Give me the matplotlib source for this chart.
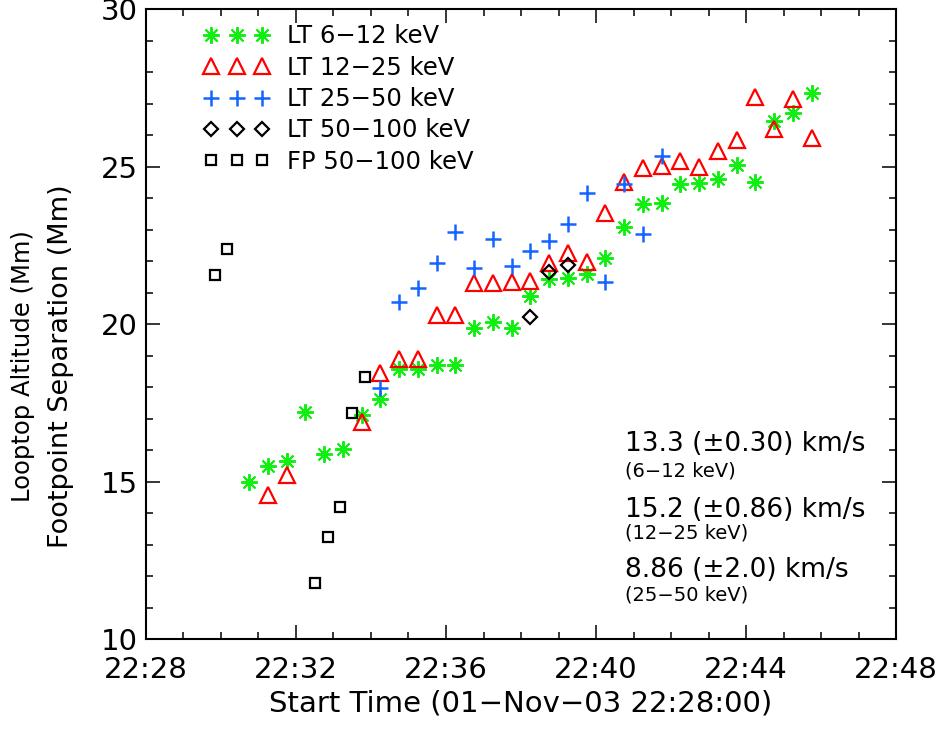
import numpy as np
import matplotlib
matplotlib.use("Agg")
import matplotlib.pyplot as plt
from matplotlib.ticker import MultipleLocator

# minutes after 22:28:00
lt1_t = [2.75, 3.25, 3.75, 4.25, 4.75, 5.25, 5.75, 6.25, 6.75, 7.25, 7.75, 8.25,
         8.75, 9.25, 9.75, 10.25, 10.75, 11.25, 11.75, 12.25, 12.75, 13.25, 13.75,
         14.25, 14.75, 15.25, 15.75, 16.25, 16.75, 17.25, 17.75]
lt1_y = [15.00, 15.51, 15.66, 17.21, 15.88, 16.03, 17.12, 17.62, 18.58, 18.58, 18.71,
         18.71, 19.87, 20.06, 19.89, 20.90, 21.44, 21.46, 21.59, 22.11, 23.10, 23.82,
         23.86, 24.44, 24.48, 24.60, 25.06, 24.53, 26.45, 26.70, 27.33]

lt2_t = [3.25, 3.75, 5.75, 6.25, 6.75, 7.25, 7.75, 8.25, 8.75, 9.25, 9.75, 10.25,
         10.75, 11.25, 11.75, 12.25, 12.75, 13.25, 13.75, 14.25, 14.75, 15.25, 15.75,
         16.25, 16.75, 17.25, 17.75]
lt2_y = [14.58, 15.22, 16.91, 18.44, 18.90, 18.90, 20.30, 20.30, 21.32, 21.32, 21.35,
         21.37, 21.96, 22.27, 21.99, 23.54, 24.53, 24.97, 25.03, 25.18, 25.00, 25.51,
         25.85, 27.21, 26.19, 27.14, 25.90]

lt3_t = [6.25, 6.75, 7.25, 7.75, 8.25, 8.75, 9.25, 9.75, 10.25, 10.75, 11.25, 11.75,
         12.25, 12.75, 13.25, 13.75]
lt3_y = [17.97, 20.72, 21.14, 21.94, 22.94, 21.78, 22.70, 21.85, 22.34, 22.64, 23.17,
         24.18, 21.33, 24.44, 22.86, 25.34]

lt4_t = [10.25, 10.75, 11.25]
lt4_y = [20.24, 21.67, 21.88]

fp_t = [1.84, 2.17, 4.51, 4.85, 5.17, 5.50, 5.84]
fp_y = [21.56, 22.39, 11.78, 13.26, 14.21, 17.17, 18.34]

xtick_vals = [0, 4, 8, 12, 16, 20]
xtick_labels = ["22:28", "22:32", "22:36", "22:40", "22:44", "22:48"]

speeds = ["13.3 (\u00b10.30) km/s", "15.2 (\u00b10.86) km/s", "8.86 (\u00b12.0) km/s"]
bands = ["(6\u221212 keV)", "(12\u221225 keV)", "(25\u221250 keV)"]

GREEN = "#11ee11"
RED = "#ff0000"
BLUE = "#1464ff"

plt.rcParams["font.family"] = ["DejaVu Sans"]

fig = plt.figure(figsize=(9.43, 7.29), dpi=100)
ax = fig.add_axes([0.1548, 0.1230, 0.7954, 0.8642])

ax.plot(lt1_t, lt1_y, ls="none", marker=(8, 2, 0), ms=12, mew=1.4, color=GREEN,
        label="LT 6\u221212 keV")
ax.plot(lt2_t, lt2_y, ls="none", marker="^", ms=12, mew=1.6, mfc="none", mec=RED,
        label="LT 12\u221225 keV")
ax.plot(lt3_t, lt3_y, ls="none", marker="+", ms=11, mew=1.8, color=BLUE,
        label="LT 25\u221250 keV")
ax.plot(lt4_t, lt4_y, ls="none", marker="D", ms=7.5, mew=1.6, mfc="none", mec="black",
        label="LT 50\u2212100 keV")
ax.plot(fp_t, fp_y, ls="none", marker="s", ms=6.5, mew=1.6, mfc="none", mec="black",
        label="FP 50\u2212100 keV")

ax.set_xlim(0, 20)
ax.set_ylim(10, 30)
ax.set_xticks(xtick_vals)
ax.set_xticklabels(xtick_labels)
ax.xaxis.set_minor_locator(MultipleLocator(1))
ax.set_yticks([10, 15, 20, 25, 30])
ax.yaxis.set_minor_locator(MultipleLocator(1))
ax.tick_params(which="both", direction="in", top=True, right=True, width=1.1)
ax.tick_params(which="major", length=10)
ax.tick_params(which="minor", length=5)
ax.tick_params(axis="x", labelsize=21, pad=12)
ax.tick_params(axis="y", labelsize=21, pad=6)
for sp in ax.spines.values():
    sp.set_linewidth(1.5)

ax.set_xlabel("Start Time (01\u2212Nov\u221203 22:28:00)", fontsize=21, labelpad=4)
fig.text(61 / 943, 0.498, "Footpoint Separation (Mm)", rotation=90, fontsize=19.5,
         ha="center", va="center")
fig.text(23 / 943, 0.498, "Looptop Altitude (Mm)", rotation=90, fontsize=17.5,
         ha="center", va="center")

leg = ax.legend(loc="upper left", bbox_to_anchor=(0.0776, 0.976), frameon=False,
                numpoints=3, fontsize=17.5, handlelength=2.69, handletextpad=0.73,
                labelspacing=0.30, borderpad=0, borderaxespad=0)

y_big = [0.2994, 0.1946, 0.0994]
y_small = [0.2581, 0.1603, 0.0624]
for s, b, yb, ys in zip(speeds, bands, y_big, y_small):
    ax.text(0.639, yb, s, transform=ax.transAxes, fontsize=19, va="baseline")
    ax.text(0.639, ys, b, transform=ax.transAxes, fontsize=14, va="baseline")

fig.savefig("out.png", dpi=100)
